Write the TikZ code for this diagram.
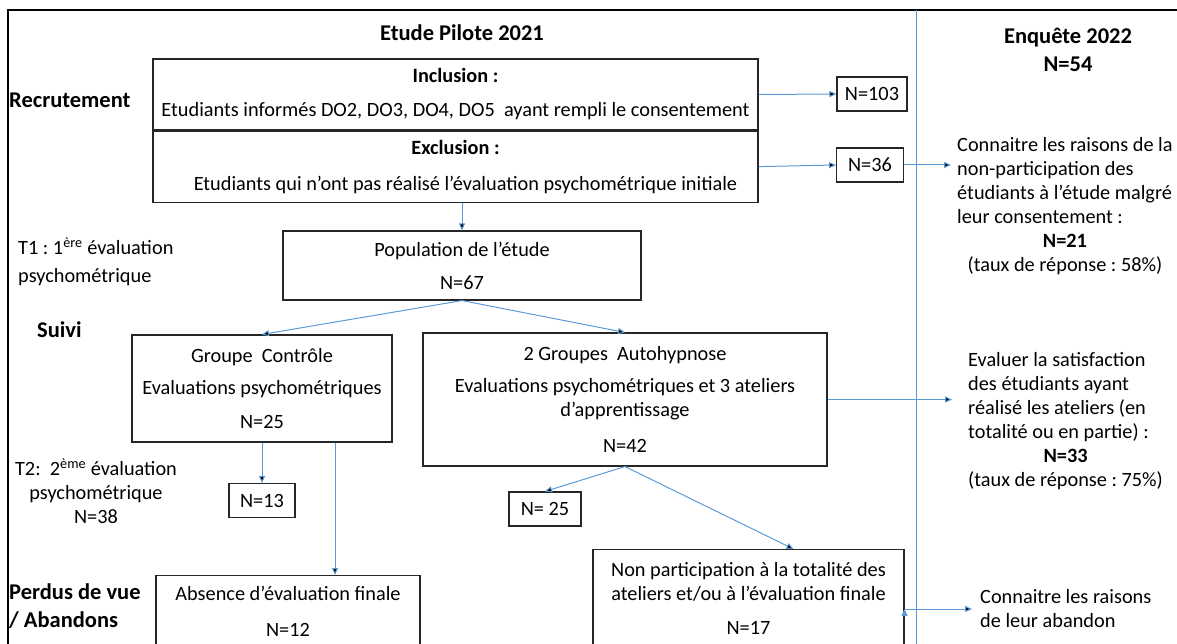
\documentclass[tikz,border=0pt]{standalone}
\usepackage{fontspec}
\setmainfont{Carlito}
\usetikzlibrary{arrows.meta}
\definecolor{flowblue}{RGB}{91,155,213}
\frenchspacing

\begin{document}
\begin{tikzpicture}[x=1pt,y=-1pt,
    every node/.style={font=\fontsize{20.3}{24}\selectfont, inner sep=0pt},
    box/.style={draw=black!85, line width=1.1pt, align=center},
    nbox/.style={draw=black!85, line width=1.1pt, minimum height=34pt},
    head/.style={font=\fontsize{22.5}{28}\selectfont\bfseries},
    note/.style={anchor=north west},
    flow/.style={draw=flowblue, line width=1pt, -{Triangle[length=7pt,width=6pt]}}]
        \useasboundingbox (0,0) rectangle (1177,644);
        \clip (0,0) rectangle (1177,644);
        \draw[line width=1.6pt] (8,10) rectangle (1230,700);
        \draw[flowblue, line width=1pt] (916,10) -- (916,700);

        % titles of the two columns
        \node[head] at (462,33) (pilote) {Etude Pilote 2021};
        \node[head, align=center] at (1068,50) (enquete) {Enquête 2022\\N=54};

        % phases
        \node[head, anchor=west] at (9,100) (recru) {Recrutement};
        \node[anchor=west, align=left] at (18,262) (t1) {T1 : 1\textsuperscript{ère} évaluation\\[4pt]psychométrique};
        \node[head, anchor=west] at (37,330) (suivi) {Suivi};
        \node[align=center] at (96,491) (t2) {T2:~ 2\textsuperscript{ème} évaluation\\psychométrique\\N=38};
        \node[head, anchor=west, align=left] at (9,606) (perdus) {Perdus de vue\\/ Abandons};

        % pilot study
        \node[box, minimum width=605pt, minimum height=71pt] at (455.5,94.5) (incl) {\textbf{Inclusion :}\\[10pt]Etudiants informés DO2, DO3, DO4, DO5~ ayant rempli le consentement};
        \node[box, minimum width=605pt, minimum height=71pt, anchor=north] at (incl.south) (excl) {\textbf{Exclusion :}\\[12pt]\hspace*{20pt}Etudiants qui n’ont pas réalisé l’évaluation psychométrique initiale};
        \node[nbox, minimum width=70pt] at (872,94) (n103) {N=103};
        \node[nbox, minimum width=67pt] at (870,165) (n36) {N=36};
        \node[box, minimum width=358pt, minimum height=69pt] at (462,265.5) (pop) {Population de l’étude\\[9pt]N=67};
        \node[box, minimum width=260pt, minimum height=107pt] at (262,388.5) (ctrl) {Groupe~ Contrôle\\[8pt]Evaluations psychométriques\\[10pt]N=25};
        \node[box, minimum width=404pt, minimum height=133pt] at (625,399.5) (auto) {2 Groupes~ Autohypnose\\[8pt]Evaluations psychométriques et 3 ateliers\\d’apprentissage\\[12pt]N=42};
        \node[nbox, minimum width=66pt] at (262,500.5) (n13) {N=13};
        \node[nbox, minimum width=72pt] at (545,509) (n25) {N= 25};
        \node[box, minimum width=264pt, minimum height=72pt, anchor=north] at (288,575) (absence) {Absence d’évaluation finale\\[12pt]N=12};
        \node[box, minimum width=311pt, minimum height=98pt, anchor=north] at (748.5,549) (nonpart) {Non participation à la totalité des\\ateliers et/ou à l’évaluation finale\\[10pt]N=17};

        % survey 2022
        \node[note] at (957,135) (raisons) {\begin{tabular}{@{}l@{}}
            Connaitre les raisons de la\\ non-participation des\\ étudiants à l’étude malgré\\ leur consentement :\\
            \multicolumn{1}{@{}c@{}}{\textbf{N=21}}\\ \multicolumn{1}{@{}c@{}}{(taux de réponse : 58\%)}
        \end{tabular}};
        \node[note] at (968,349) (satisf) {\begin{tabular}{@{}l@{}}
            Evaluer la satisfaction\\ des étudiants ayant\\ réalisé les ateliers (en\\ totalité ou en partie) :\\
            \multicolumn{1}{@{}c@{}}{\textbf{N=33}}\\ \multicolumn{1}{@{}c@{}}{(taux de réponse : 75\%)}
        \end{tabular}};
        \node[anchor=west, align=left] at (980,609) (abandon) {Connaitre les raisons\\de leur abandon};

        \path[flow]
            (incl.east) edge (n103.west)
            (excl.east) edge (n36.west)
            (n36.east) edge ([xshift=-6pt]raisons.west |- n36.east)
            (pop.north |- excl.south) edge (pop.north)
            (pop.south) edge (ctrl.north)
            (pop.south) edge (auto.north)
            (auto.east) edge ([xshift=-16pt]satisf.west |- auto.east)
            (ctrl.south) edge (n13.north)
            ([xshift=73pt]ctrl.south) edge ([xshift=73pt]ctrl.south |- absence.north)
            (auto.south) edge (n25.north)
            (auto.south) edge ([xshift=45pt]nonpart.north)
            (nonpart.east |- abandon.west) edge ([xshift=-8pt]abandon.west)
            ;
    \end{tikzpicture}
\end{document}
